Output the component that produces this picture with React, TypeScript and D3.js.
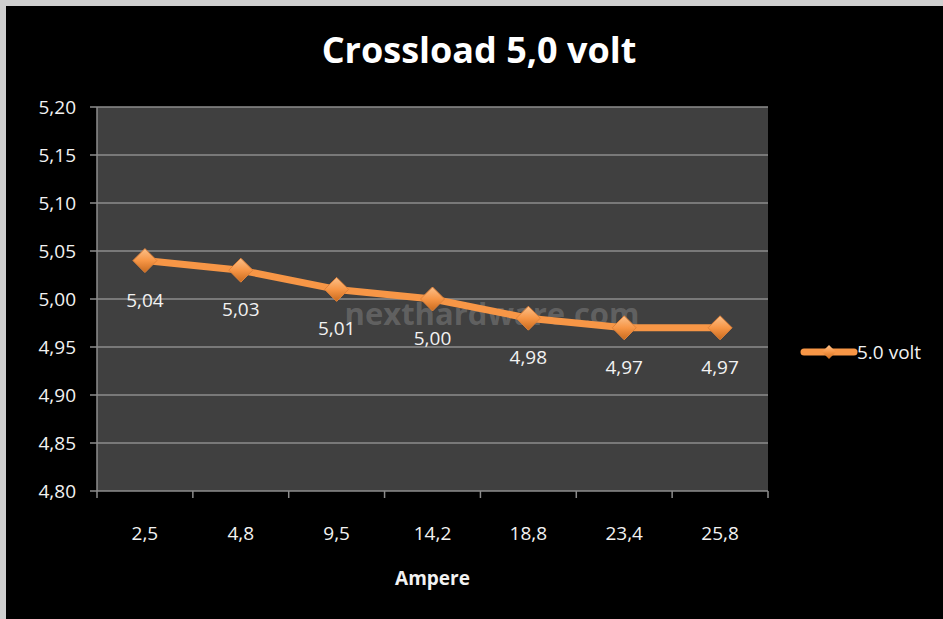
import React from "react";
import * as d3 from "d3";

const categories = ["2,5", "4,8", "9,5", "14,2", "18,8", "23,4", "25,8"];
const values = [5.04, 5.03, 5.01, 5.0, 4.98, 4.97, 4.97];
const valueLabels = ["5,04", "5,03", "5,01", "5,00", "4,98", "4,97", "4,97"];
const yTicks = [4.8, 4.85, 4.9, 4.95, 5.0, 5.05, 5.1, 5.15, 5.2];
const seriesName = "5.0 volt";
const title = "Crossload 5,0 volt";
const xTitle = "Ampere";

const W = 943;
const H = 619;
const plot = { left: 97, right: 768, top: 107, bottom: 491 };
const FONT = "'Open Sans', 'DejaVu Sans', sans-serif";
const ORANGE = "#f79646";
const FS = 19;

export default function App() {
  const x = d3.scaleBand<string>().domain(categories).range([plot.left, plot.right]);
  const y = d3.scaleLinear().domain([4.8, 5.2]).range([plot.bottom, plot.top]);
  const cx = (c: string) => (x(c) as number) + x.bandwidth() / 2;
  const line = d3
    .line<number>()
    .x((_, i) => cx(categories[i]))
    .y((d) => y(d));
  const fmt = (v: number) => v.toFixed(2).replace(".", ",");
  const diamond = (px: number, py: number, r: number) =>
    `M${px},${py - r}L${px + r},${py}L${px},${py + r}L${px - r},${py}Z`;

  return (
    <svg
      width={W}
      height={H}
      style={{ position: "absolute", left: 0, top: 0, display: "block" }}
    >
      <defs>
        <linearGradient id="dg" x1="0" y1="0" x2="0" y2="1">
          <stop offset="0" stopColor="#fbc08a" />
          <stop offset="0.5" stopColor="#f79646" />
          <stop offset="1" stopColor="#c86a1e" />
        </linearGradient>
      </defs>
      <rect x={0} y={0} width={W} height={H} fill="#cfcfcf" />
      <rect x={6} y={6} width={W - 6} height={H - 6} fill="#000000" />
      <text
        x={479}
        y={63}
        textAnchor="middle"
        fill="#ffffff"
        fontFamily="'Liberation Sans Narrow', 'Open Sans', sans-serif"
        fontWeight="bold"
        fontSize={36}
      >
        {title}
      </text>
      <rect
        x={plot.left}
        y={plot.top}
        width={plot.right - plot.left}
        height={plot.bottom - plot.top}
        fill="#404040"
      />
      <text
        x={492}
        y={325}
        textAnchor="middle"
        fill="#8a8a8a"
        fillOpacity={0.45}
        fontFamily={FONT}
        fontWeight="bold"
        fontSize={31}
      >
        nexthardware.com
      </text>
      {yTicks.map((t) => (
        <g key={t}>
          <line
            x1={plot.left - 7}
            x2={plot.right}
            y1={y(t)}
            y2={y(t)}
            stroke="#8c8c8c"
            strokeWidth={1.5}
          />
          <text
            x={76}
            y={y(t) + 7}
            textAnchor="end"
            fill="#f2f2f2"
            fontFamily={FONT}
            fontSize={FS}
          >
            {fmt(t)}
          </text>
        </g>
      ))}
      <line x1={plot.left} x2={plot.left} y1={plot.top} y2={plot.bottom} stroke="#8c8c8c" strokeWidth={1.5} />
      {categories.map((c, i) => (
        <line
          key={"t" + i}
          x1={x(c) as number}
          x2={x(c) as number}
          y1={plot.bottom}
          y2={plot.bottom + 7}
          stroke="#8c8c8c"
          strokeWidth={1.5}
        />
      ))}
      <line x1={plot.right} x2={plot.right} y1={plot.bottom} y2={plot.bottom + 7} stroke="#8c8c8c" strokeWidth={1.5} />
      {categories.map((c) => (
        <text
          key={c}
          x={cx(c)}
          y={540}
          textAnchor="middle"
          fill="#f2f2f2"
          fontFamily={FONT}
          fontSize={FS}
        >
          {c}
        </text>
      ))}
      <text
        x={(plot.left + plot.right) / 2}
        y={585}
        textAnchor="middle"
        fill="#f2f2f2"
        fontFamily={FONT}
        fontWeight="bold"
        fontSize={FS}
      >
        {xTitle}
      </text>
      <path
        d={line(values) || ""}
        fill="none"
        stroke={ORANGE}
        strokeWidth={7}
        strokeLinejoin="round"
        strokeLinecap="round"
      />
      {values.map((v, i) => (
        <g key={"p" + i}>
          <path d={diamond(cx(categories[i]), y(v), 12)} fill="url(#dg)" stroke="#e0823a" strokeWidth={1} />
          <text
            x={cx(categories[i])}
            y={y(v) + 46}
            textAnchor="middle"
            fill="#f2f2f2"
            fontFamily={FONT}
            fontSize={FS}
          >
            {valueLabels[i]}
          </text>
        </g>
      ))}
      <line x1={804} x2={854} y1={352} y2={352} stroke={ORANGE} strokeWidth={7} strokeLinecap="round" />
      <path d={diamond(829, 352, 7)} fill="url(#dg)" />
      <text x={857} y={359} fill="#f2f2f2" fontFamily={FONT} fontSize={FS}>
        {seriesName}
      </text>
    </svg>
  );
}
